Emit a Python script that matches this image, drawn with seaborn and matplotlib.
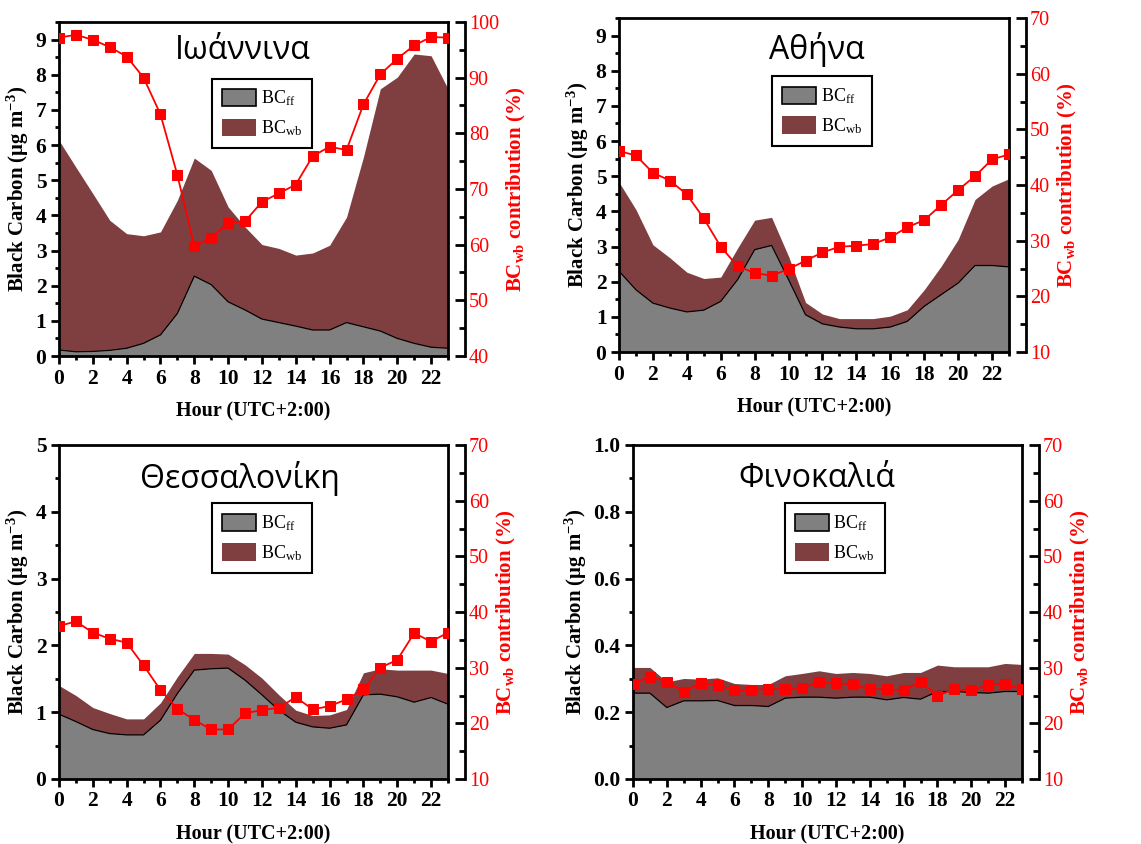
import matplotlib
matplotlib.use("Agg")
import matplotlib.pyplot as plt
import seaborn as sns
import numpy as np
import pandas as pd
from matplotlib.ticker import MultipleLocator
from matplotlib.patches import Patch

hours = list(range(24))

# Ioannina
ioa_ff = [0.17, 0.12, 0.13, 0.16, 0.22, 0.36, 0.60, 1.21, 2.27, 2.03, 1.54, 1.31,
          1.05, 0.95, 0.85, 0.74, 0.74, 0.95, 0.83, 0.71, 0.50, 0.36, 0.25, 0.22]
ioa_total = [6.13, 5.37, 4.62, 3.86, 3.48, 3.42, 3.53, 4.43, 5.63, 5.28, 4.24, 3.67,
             3.17, 3.06, 2.87, 2.93, 3.15, 3.95, 5.66, 7.60, 7.93, 8.59, 8.54, 7.60]
ioa_pct = [97.2, 97.7, 96.8, 95.5, 93.8, 90.0, 83.4, 72.5, 59.7, 61.2, 63.9, 64.2,
           67.7, 69.2, 70.8, 75.9, 77.6, 77.0, 85.2, 90.6, 93.4, 95.8, 97.3, 97.2]

# Athens
ath_ff = [2.30, 1.77, 1.39, 1.25, 1.14, 1.19, 1.44, 2.06, 2.91, 3.03, 2.06, 1.06,
          0.80, 0.71, 0.66, 0.66, 0.71, 0.87, 1.30, 1.63, 1.96, 2.46, 2.46, 2.42]
ath_total = [4.83, 4.05, 3.05, 2.68, 2.27, 2.09, 2.13, 2.96, 3.75, 3.83, 2.72, 1.41,
             1.08, 0.95, 0.95, 0.95, 1.02, 1.20, 1.77, 2.44, 3.20, 4.34, 4.72, 4.93]
ath_pct = [46.1, 45.3, 42.2, 40.8, 38.3, 34.0, 28.9, 25.4, 24.2, 23.7, 24.9, 26.4,
           27.9, 28.9, 29.1, 29.4, 30.6, 32.4, 33.7, 36.4, 39.1, 41.6, 44.6, 45.5]

# Thessaloniki
the_ff = [0.97, 0.86, 0.74, 0.68, 0.66, 0.66, 0.88, 1.28, 1.63, 1.65, 1.66, 1.48,
          1.26, 1.03, 0.85, 0.78, 0.76, 0.81, 1.26, 1.27, 1.23, 1.15, 1.22, 1.12]
the_total = [1.40, 1.25, 1.07, 0.98, 0.90, 0.90, 1.14, 1.53, 1.88, 1.88, 1.87, 1.71,
             1.51, 1.26, 1.03, 0.95, 0.96, 1.04, 1.59, 1.65, 1.63, 1.63, 1.63, 1.58]
the_pct = [37.5, 38.3, 36.3, 35.2, 34.5, 30.4, 26.0, 22.6, 20.6, 18.9, 18.9, 21.8,
           22.4, 22.8, 24.7, 22.5, 23.1, 24.3, 26.1, 30.0, 31.4, 36.2, 34.7, 36.3]

# Finokalia
fin_ff = [0.257, 0.257, 0.214, 0.234, 0.234, 0.235, 0.220, 0.220, 0.217, 0.242, 0.245, 0.245,
          0.242, 0.245, 0.245, 0.237, 0.244, 0.239, 0.262, 0.262, 0.259, 0.257, 0.262, 0.262]
fin_total = [0.334, 0.334, 0.291, 0.301, 0.299, 0.303, 0.286, 0.283, 0.283, 0.309, 0.316, 0.324,
             0.316, 0.319, 0.316, 0.309, 0.319, 0.319, 0.341, 0.336, 0.336, 0.336, 0.346, 0.343]
fin_pct = [27.1, 28.4, 27.5, 25.7, 27.2, 26.9, 25.9, 25.9, 26.2, 26.1, 26.4, 27.4,
           27.2, 27.0, 26.1, 26.2, 25.9, 27.5, 25.0, 26.1, 25.9, 26.9, 27.1, 26.1]

titles = ["Ιωάννινα", "Αθήνα", "Θεσσαλονίκη", "Φινοκαλιά"]
legend_labels = ["BC$_{ff}$", "BC$_{wb}$"]
xlabel = "Hour (UTC+2:00)"
ylabel = "Black Carbon (μg m$^{-3}$)"
y2label = "BC$_{wb}$ contribution (%)"

GREY = "#808080"
BROWN = "#7f3f40"
RED = "#ff0000"

sns.set_theme(style="ticks")
plt.rcParams["font.family"] = ["Liberation Serif", "DejaVu Serif"]
plt.rcParams["mathtext.default"] = "regular"
plt.rcParams["axes.linewidth"] = 2.0
plt.rcParams["text.color"] = "black"
plt.rcParams["axes.labelcolor"] = "black"
plt.rcParams["xtick.color"] = "black"
plt.rcParams["ytick.color"] = "black"

fig = plt.figure(figsize=(11.41, 8.44), dpi=100)
W, H = 1141.0, 844.0

# panel boxes in pixels: left, top, right, bottom
boxes = [(59, 22, 448, 356), (619, 18, 1009, 352), (59, 445, 448, 779), (633, 445, 1022, 779)]
panels = [
    dict(ff=ioa_ff, tot=ioa_total, pct=ioa_pct, ylim=(0, 9.5), ymaj=1, ymin=0.5, y2=(40, 100),
         title_xy=(0.473, 0.915), leg=(0.393, 0.83), yfmt="{:.0f}"),
    dict(ff=ath_ff, tot=ath_total, pct=ath_pct, ylim=(0, 9.5), ymaj=1, ymin=0.5, y2=(10, 70),
         title_xy=(0.508, 0.905), leg=(0.392, 0.825), yfmt="{:.0f}"),
    dict(ff=the_ff, tot=the_total, pct=the_pct, ylim=(0, 5), ymaj=1, ymin=0.5, y2=(10, 70),
         title_xy=(0.465, 0.90), leg=(0.393, 0.825), yfmt="{:.0f}"),
    dict(ff=fin_ff, tot=fin_total, pct=fin_pct, ylim=(0, 1.0), ymaj=0.2, ymin=0.1, y2=(10, 70),
         title_xy=(0.473, 0.90), leg=(0.39, 0.825), yfmt="{:.1f}"),
]

for (l, t, r, b), p, title in zip(boxes, panels, titles):
    ax = fig.add_axes([l / W, 1 - b / H, (r - l) / W, (b - t) / H])
    df = pd.DataFrame({"hour": hours, "ff": p["ff"], "total": p["tot"], "pct": p["pct"]})
    ax.fill_between(df["hour"], 0, df["ff"], color=GREY, linewidth=0, zorder=2)
    ax.fill_between(df["hour"], df["ff"], df["total"], color=BROWN, linewidth=0, zorder=2)
    sns.lineplot(data=df, x="hour", y="ff", ax=ax, color="black", linewidth=0.9, zorder=3)
    ax.set_xlim(0, 23)
    ax.set_ylim(*p["ylim"])
    ax.xaxis.set_major_locator(MultipleLocator(2))
    ax.xaxis.set_minor_locator(MultipleLocator(1))
    ax.yaxis.set_major_locator(MultipleLocator(p["ymaj"]))
    ax.yaxis.set_minor_locator(MultipleLocator(p["ymin"]))
    ax.tick_params(axis="both", which="major", direction="out", length=6, width=2,
                   labelsize=15.5, colors="black", right=False, top=False, pad=3)
    ax.tick_params(axis="both", which="minor", direction="out", length=3, width=2,
                   right=False, top=False)
    fmt = p["yfmt"]
    ax.set_yticks(ax.get_yticks())
    ax.set_yticklabels([fmt.format(v) for v in ax.get_yticks()])
    ax.set_ylim(*p["ylim"])
    for lab in ax.get_xticklabels() + ax.get_yticklabels():
        lab.set_fontweight("bold")
    ax.set_xlabel(xlabel, fontsize=14.5, fontweight="bold", labelpad=9, color="black")
    ax.set_ylabel(ylabel, fontsize=15, fontweight="bold", labelpad=3, color="black")
    for s in ax.spines.values():
        s.set_linewidth(2)
        s.set_color("black")

    ax2 = ax.twinx()
    sns.lineplot(data=df, x="hour", y="pct", ax=ax2, color=RED, marker="s", markersize=6.5,
                 markeredgecolor=RED, linewidth=1.3)
    ax2.set_ylim(*p["y2"])
    ax2.set_xlim(0, 23)
    ax2.yaxis.set_major_locator(MultipleLocator(10))
    ax2.yaxis.set_minor_locator(MultipleLocator(5))
    for side in ["top", "left", "bottom"]:
        ax2.spines[side].set_visible(False)
    ax2.spines["right"].set_position(("outward", 12))
    ax2.spines["right"].set_linewidth(2)
    ax2.spines["right"].set_color("black")
    ax2.tick_params(axis="y", which="major", direction="in", length=7, width=2,
                    labelsize=14.5, labelcolor=RED, color="black", pad=3)
    ax2.tick_params(axis="y", which="minor", direction="in", length=4, width=2, color="black")
    ax2.set_ylabel(y2label, fontsize=15, fontweight="bold", color=RED, labelpad=4)

    ax.text(p["title_xy"][0], p["title_xy"][1], title, transform=ax.transAxes,
            ha="center", va="center", fontsize=23, color="black",
            family=["Open Sans", "DejaVu Sans"], zorder=10)

    handles = [Patch(facecolor=GREY, edgecolor="black", linewidth=1.2),
               Patch(facecolor=BROWN, edgecolor=BROWN, linewidth=0)]
    leg = ax2.legend(handles=handles, labels=legend_labels, loc="upper left",
                     bbox_to_anchor=p["leg"], bbox_transform=ax.transAxes,
                     frameon=True, fancybox=False, edgecolor="black", framealpha=1,
                     prop={"family": "Liberation Serif", "size": 13},
                     handlelength=1.9, handleheight=1.1, handletextpad=0.25,
                     labelspacing=0.55, borderpad=0.55, borderaxespad=0)
    leg.get_frame().set_linewidth(1.5)
    for txt in leg.get_texts():
        txt.set_color("black")

fig.savefig("out.png", dpi=100)
